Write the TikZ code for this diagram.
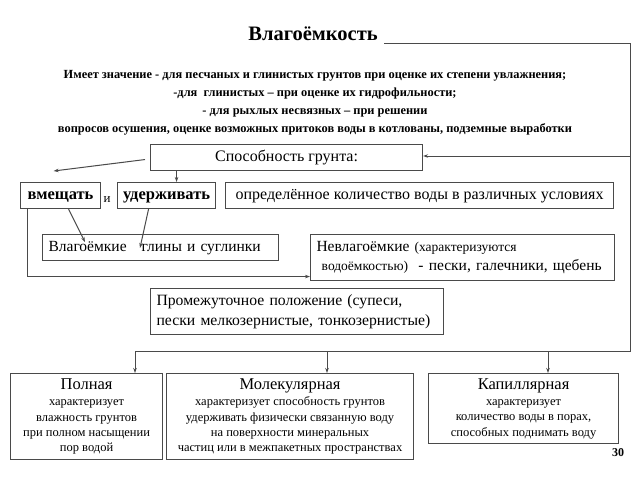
\documentclass[tikz,border=0pt]{standalone}
\usepackage{fontspec}
\setmainfont{Liberation Serif}
\usetikzlibrary{arrows.meta}
\definecolor{ln}{HTML}{4A4A4A}
\begin{document}
\begin{tikzpicture}[x=1pt,y=-1pt,
  box/.style={draw=ln, line width=1.1pt, inner sep=0pt, anchor=north west, text=black},
  lbox/.style={box, align=left, inner xsep=6pt},
  cbox/.style={box, align=center},
  one/.style={text height=11pt, text depth=3pt},
  conn/.style={draw=ln, line width=1pt},
  arr/.style={conn, -{Stealth[length=5pt,width=3.5pt]}}
]
\useasboundingbox (0,0) rectangle (640,480);

% title and description
\node[font=\fontsize{20.5}{20.5}\selectfont\bfseries, anchor=center] (title) at (313,34) {Влагоёмкость};
\node[anchor=center, align=center, font=\fontsize{12.4}{18}\selectfont\bfseries] (desc) at (315,103)
 {Имеет значение - для песчаных и глинистых грунтов при оценке их степени увлажнения;\\
  -для\ \ глинистых -- при оценке их гидрофильности;\\
  - для рыхлых несвязных -- при решении\\
  вопросов осушения, оценке возможных притоков воды в котлованы, подземные выработки};

% boxes
\node[cbox, one, minimum width=272pt, minimum height=26pt, font=\fontsize{16}{16}\selectfont] (sposob) at (150,144) {Способность грунта:};
\node[cbox, one, minimum width=80pt, minimum height=26pt, font=\fontsize{16.5}{16.5}\selectfont\bfseries] (vmesh) at (20,182) {вмещать};
\node[anchor=center, font=\fontsize{13}{13}\selectfont] (i) at (107,200) {и};
\node[cbox, one, minimum width=98pt, minimum height=26pt, font=\fontsize{16.5}{16.5}\selectfont\bfseries] (uderzh) at (117,182) {удерживать};
\node[cbox, one, minimum width=388pt, minimum height=26pt, font=\fontsize{16}{16}\selectfont] (opred) at (225,182) {определённое количество воды в различных условиях};

\node[lbox, one, minimum width=236pt, minimum height=26pt, text width=224pt, font=\fontsize{15.5}{15.5}\selectfont] (vlag) at (42,234) {Влагоёмкие\hspace{15pt}глины и суглинки};
\node[lbox, minimum width=304pt, minimum height=46pt, text width=292pt, font=\fontsize{15.5}{19}\selectfont] (nevlag) at (310,234)
 {Невлагоёмкие {\fontsize{13.5}{13.5}\selectfont(характеризуются}\\
  \ {\fontsize{13.5}{13.5}\selectfont водоёмкостью)}\ \ - пески, галечники, щебень};
\node[lbox, minimum width=293pt, minimum height=46pt, text width=281pt, font=\fontsize{15.7}{20}\selectfont] (prom) at (150,288)
 {Промежуточное положение (супеси,\\пески мелкозернистые, тонкозернистые)};

\node[cbox, minimum width=152pt, minimum height=86pt, font=\fontsize{12.5}{15.3}\selectfont] (poln) at (10,373)
 {{\fontsize{16.5}{16.5}\selectfont Полная}\\[1pt]характеризует\\влажность грунтов\\при полном насыщении\\пор водой};
\node[cbox, minimum width=247pt, minimum height=86pt, font=\fontsize{12.5}{15.3}\selectfont] (molek) at (166,373)
 {{\fontsize{16.5}{16.5}\selectfont Молекулярная}\\[1pt]характеризует способность грунтов\\удерживать физически связанную воду\\на поверхности минеральных\\частиц или в межпакетных пространствах};
\node[cbox, minimum width=190pt, minimum height=70pt, font=\fontsize{12.5}{15.3}\selectfont] (kapil) at (428,373)
 {{\fontsize{16.5}{16.5}\selectfont Капиллярная}\\[1pt]характеризует\\количество воды в порах,\\способных поднимать воду};

\node[anchor=center, font=\fontsize{12}{12}\selectfont\bfseries] (num) at (618,453) {30};

% connectors
\coordinate (t1) at (384,43);
\coordinate (t2) at (630,43);
\coordinate (t3) at (630,351);
\coordinate (b1) at (135,351);
\coordinate (b2) at (327,351);
\coordinate (b3) at (548,351);
\coordinate (s1) at (630,156);
\draw[conn] (t1) -- (t2) -- (t3) -- (b1);
\draw[arr] (s1) -- (sposob.east |- s1);
\draw[arr] (b1) -- (b1 |- poln.north);
\draw[arr] (b2) -- (b2 |- molek.north);
\draw[arr] (b3) -- (b3 |- kapil.north);

\draw[arr] ([xshift=-5pt,yshift=-2pt]sposob.west) -- ([xshift=-7pt,yshift=11pt]vmesh.north);
\draw[arr] ([xshift=-110pt]sposob.south) -- ([xshift=10pt]uderzh.north);

\draw[arr] ([xshift=8pt]vmesh.south) -- ([xshift=43pt,yshift=-8pt]vlag.north west);
\draw[arr] ([xshift=-18pt]uderzh.south) -- ([xshift=98pt,yshift=-14pt]vlag.north west);
\draw[arr] ([xshift=7pt]vmesh.south west) |- ([yshift=-19pt]nevlag.west);
\end{tikzpicture}
\end{document}
